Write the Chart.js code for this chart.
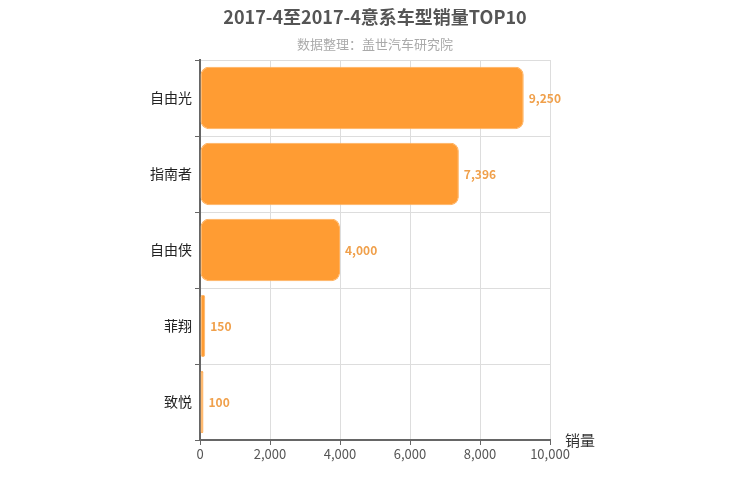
<!DOCTYPE html>
<html>
<head>
<meta charset="utf-8">
<script src="https://cdn.jsdelivr.net/npm/chart.js@4"></script>
<style>
  html, body { margin: 0; padding: 0; background: #fff; }
  #wrap { width: 750px; height: 500px; }
</style>
</head>
<body>
<div id="wrap"><canvas id="chart" width="750" height="500"></canvas></div>
<script>
const models = ['自由光', '指南者', '自由侠', '菲翔', '致悦']
const sales = [9250, 7396, 4000, 150, 100]
const xTicks = [0, 2000, 4000, 6000, 8000, 10000]
const titleText = '2017-4至2017-4意系车型销量TOP10'
const subtitleText = '数据整理：盖世汽车研究院'

const FONT = '"Noto Sans CJK SC", "Noto Sans", sans-serif'

// title, value labels at bar ends, axis name
const extras = {
  id: 'extras',
  afterDatasetsDraw(chart) {
    const ctx = chart.ctx
    const meta = chart.getDatasetMeta(0)
    ctx.save()
    ctx.textBaseline = 'middle'
    ctx.textAlign = 'center'
    ctx.font = 'bold 18px ' + FONT
    ctx.fillStyle = '#555'
    ctx.fillText(titleText, chart.width / 2, 17)
    ctx.font = '13px ' + FONT
    ctx.fillStyle = '#aaa'
    ctx.fillText(subtitleText, chart.width / 2, 44)

    ctx.textAlign = 'left'
    ctx.font = '600 12px ' + FONT
    ctx.fillStyle = '#f0a04b'
    meta.data.forEach((bar, i) => {
      ctx.fillText(sales[i].toLocaleString('en-US'), bar.x + 5, bar.y)
    })
    const x = chart.scales.x
    ctx.font = '15px ' + FONT
    ctx.fillStyle = '#333'
    ctx.fillText('销量', x.right + 15, x.top)
    ctx.restore()
  },
}

const ctx = document.getElementById('chart').getContext('2d')
new Chart(ctx, {
  type: 'bar',
  data: {
    labels: models,
    datasets: [
      {
        data: sales,
        backgroundColor: '#ff9c33',
        borderColor: '#ffb15e',
        borderWidth: 1,
        borderRadius: 8,
        borderSkipped: false,
        categoryPercentage: 0.82,
        barPercentage: 1,
      },
    ],
  },
  options: {
    indexAxis: 'y',
    responsive: false,
    animation: false,
    layout: { padding: { left: 0, right: 200, top: 60, bottom: 0 } },
    plugins: {
      legend: { display: false },
      tooltip: { enabled: false },
    },
    scales: {
      x: {
        min: 0,
        max: 10000,
        afterBuildTicks: (axis) => {
          axis.ticks = xTicks.map((v) => ({ value: v }))
        },
        afterFit: (axis) => {
          axis.height = 60
        },
        border: { color: '#666', width: 2 },
        grid: { color: '#ddd', tickColor: '#666', tickLength: 5 },
        ticks: {
          color: '#555',
          font: { family: FONT, size: 13 },
          maxRotation: 0,
          padding: 1,
          callback: (v) => v.toLocaleString('en-US'),
        },
      },
      y: {
        afterFit: (axis) => {
          axis.width = 200
        },
        border: { color: '#666', width: 2 },
        grid: { color: '#ddd', tickColor: '#666', tickLength: 5, offset: true },
        ticks: {
          color: '#222',
          font: { family: FONT, size: 14 },
          padding: 3,
        },
      },
    },
  },
  plugins: [extras],
})
</script>
</body>
</html>
